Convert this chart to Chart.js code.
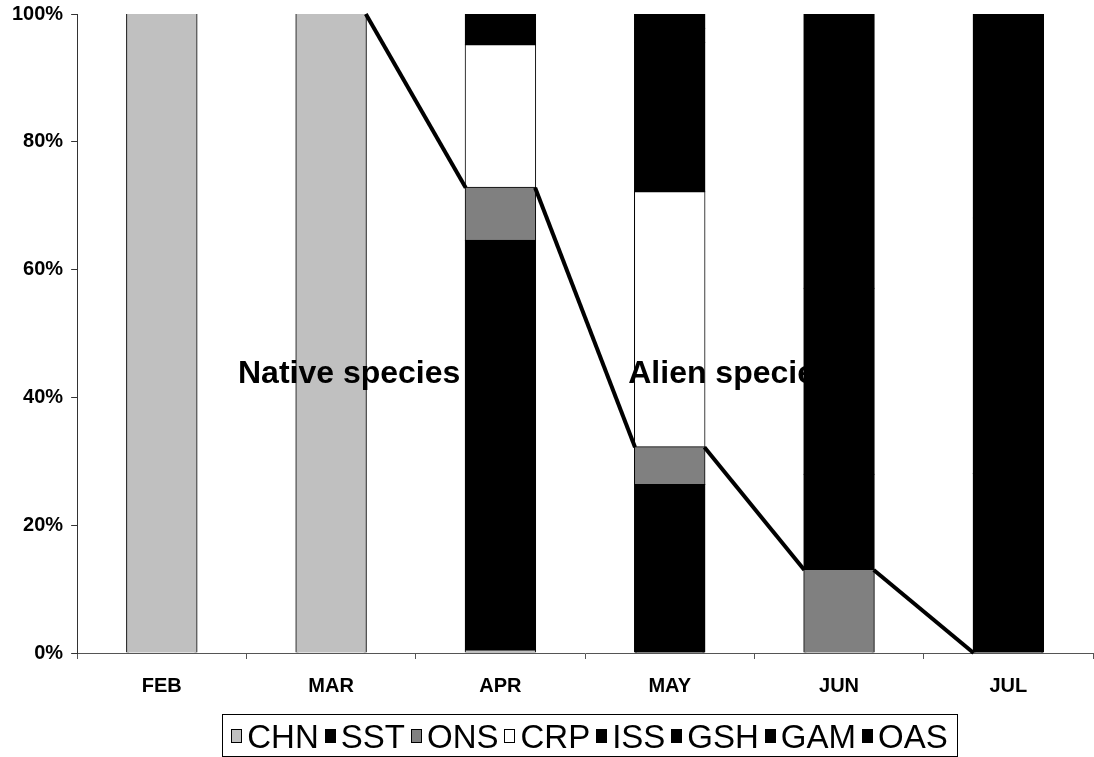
<!DOCTYPE html>
<html>
<head>
<meta charset="utf-8">
<script src="https://cdn.jsdelivr.net/npm/chart.js@4"></script>
<style>
  html, body { margin: 0; padding: 0; background: #fff; }
  #wrap { width: 1094px; height: 757px; }
</style>
</head>
<body>
<div id="wrap"><canvas id="c" width="1094" height="757"></canvas></div>
<script>
// Monthly species composition (percent of catch, stacked to 100%)
const months = ['FEB', 'MAR', 'APR', 'MAY', 'JUN', 'JUL'];
const CHN = [100, 100, 0.4, 0, 0, 0];
const SST = [0, 0, 64.1, 26.3, 0, 0];
const ONS = [0, 0, 8.3, 5.9, 13.0, 0];
const CRP = [0, 0, 22.3, 39.9, 0, 0];
const ISS = [0, 0, 4.9, 23.4, 14.9, 28];
const GSH = [0, 0, 0, 2.2, 29.1, 40];
const GAM = [0, 0, 0, 0, 43.0, 32];
const OAS = [0, 0, 0, 2.3, 0, 0];
const yTicks = [0, 20, 40, 60, 80, 100];
const groupLabels = ['Native species', 'Alien species'];

const FONT = '"Liberation Sans", Arial, sans-serif';

const seriesDefs = [
  ['CHN', CHN, '#C0C0C0'],
  ['SST', SST, '#000000'],
  ['ONS', ONS, '#808080'],
  ['CRP', CRP, '#FFFFFF'],
  ['ISS', ISS, '#000000'],
  ['GSH', GSH, '#000000'],
  ['GAM', GAM, '#000000'],
  ['OAS', OAS, '#000000']
];

const datasets = seriesDefs.map(([label, data, color]) => ({
  label,
  data,
  backgroundColor: color,
  borderColor: '#000000',
  borderWidth: 1,
  inflateAmount: 1,
  barPercentage: 0.41,
  categoryPercentage: 1.0
}));

// Line tracing the native share (top of the ONS segment) across the gaps between bars
const nativeLine = {
  id: 'nativeLine',
  afterDatasetsDraw(chart) {
    const meta = chart.getDatasetMeta(2);
    const ctx = chart.ctx;
    ctx.save();
    ctx.strokeStyle = '#000';
    ctx.lineWidth = 4;
    ctx.lineCap = 'butt';
    for (let i = 1; i < meta.data.length - 1; i++) {
      const a = meta.data[i], b = meta.data[i + 1];
      ctx.beginPath();
      ctx.moveTo(a.x + a.width / 2, a.y);
      ctx.lineTo(b.x - b.width / 2, b.y);
      ctx.stroke();
    }
    ctx.restore();
  }
};

// Group captions placed in data coordinates (category index, percent)
const captionPos = [[0.45, 42.3], [2.755, 42.3]];
const captions = {
  id: 'captions',
  afterDatasetsDraw(chart) {
    const { ctx, scales: { x, y } } = chart;
    const step = x.getPixelForValue(1) - x.getPixelForValue(0);
    ctx.save();
    ctx.fillStyle = '#000';
    ctx.font = 'bold 32px ' + FONT;
    ctx.textAlign = 'left';
    ctx.textBaseline = 'alphabetic';
    groupLabels.forEach((t, i) => {
      const [cx, cy] = captionPos[i];
      ctx.fillText(t, x.getPixelForValue(0) + cx * step, y.getPixelForValue(cy));
    });
    ctx.restore();
  }
};

// Boxed legend row beneath the x axis
const boxLegend = {
  id: 'boxLegend',
  afterDraw(chart) {
    const ctx = chart.ctx;
    const fontSize = 33;
    const sq = 11, sqH = 14, gapA = 5, gapB = 6;
    ctx.save();
    ctx.font = fontSize + 'px ' + FONT;
    const items = chart.data.datasets.map(d => ({ text: d.label, color: d.backgroundColor, w: ctx.measureText(d.label).width }));
    let total = 0;
    items.forEach((it, i) => { total += sq + gapA + it.w + (i < items.length - 1 ? gapB : 0); });
    const boxL = 222, boxR = 957, boxT = 714, boxB = 756;
    ctx.strokeStyle = '#000';
    ctx.lineWidth = 1;
    ctx.strokeRect(boxL + 0.5, boxT + 0.5, boxR - boxL, boxB - boxT);
    let xPos = (boxL + boxR) / 2 - total / 2;
    const midY = 738;
    ctx.textBaseline = 'middle';
    ctx.textAlign = 'left';
    items.forEach(it => {
      const sx = Math.round(xPos), sy = Math.round(midY - sqH / 2 - 2);
      ctx.fillStyle = it.color;
      ctx.fillRect(sx, sy, sq, sqH);
      ctx.strokeStyle = '#000';
      ctx.strokeRect(sx + 0.5, sy + 0.5, sq - 1, sqH - 1);
      xPos += sq + gapA;
      ctx.fillStyle = '#000';
      ctx.fillText(it.text, xPos, midY + 1);
      xPos += it.w + gapB;
    });
    ctx.restore();
  }
};

new Chart(document.getElementById('c'), {
  type: 'bar',
  data: { labels: months, datasets },
  options: {
    responsive: false,
    animation: false,
    layout: { padding: { top: 14, left: 4, right: 1, bottom: 44 } },
    plugins: {
      legend: { display: false },
      tooltip: { enabled: false }
    },
    scales: {
      x: {
        stacked: true,
        offset: true,
        grid: { display: true, drawOnChartArea: false, offset: true, tickLength: 6, color: '#555', tickColor: '#555' },
        border: { display: true, color: '#555', width: 1 },
        ticks: { color: '#000', font: { family: FONT, size: 20, weight: 'bold' }, padding: 15 }
      },
      y: {
        stacked: true,
        min: 0,
        max: 100,
        afterBuildTicks(scale) { scale.ticks = yTicks.map(v => ({ value: v })); },
        afterFit(scale) { scale.paddingTop = 0; },
        grid: { display: true, drawOnChartArea: false, tickLength: 6, color: '#333', tickColor: '#333' },
        border: { display: true, color: '#333', width: 1 },
        ticks: { color: '#000', font: { family: FONT, size: 20, weight: 'bold' }, padding: 8, callback: v => v + '%' }
      }
    }
  },
  plugins: [nativeLine, captions, boxLegend]
});
</script>
</body>
</html>
